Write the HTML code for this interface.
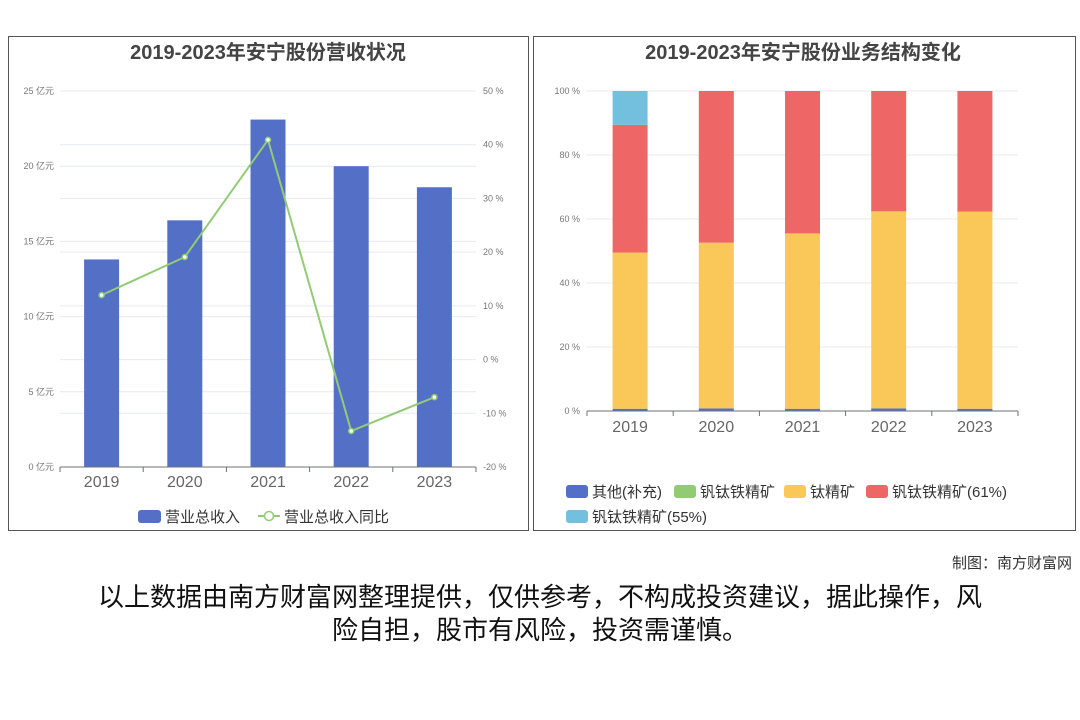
<!DOCTYPE html>
<html><head><meta charset="utf-8"><style>
body{margin:0;width:1080px;height:720px;background:#fff;font-family:"Liberation Sans","Noto Sans CJK SC",sans-serif;position:relative;overflow:hidden}
.panel{position:absolute;border:1px solid #555;background:#fff}
svg text{font-family:"Liberation Sans","Noto Sans CJK SC",sans-serif}
</style></head><body>
<div class="panel" style="left:8px;top:36px;width:519px;height:493px"></div>
<div class="panel" style="left:533px;top:36px;width:541px;height:493px"></div>
<svg id="svg" width="1080" height="720" style="position:absolute;left:0;top:0">
<text x="268" y="59" text-anchor="middle" font-size="20" font-weight="bold" fill="#444">2019-2023年安宁股份营收状况</text>
<text x="803" y="59" text-anchor="middle" font-size="20" font-weight="bold" fill="#444">2019-2023年安宁股份业务结构变化</text>
<g id="left"></g><g id="right"></g>
</svg>
<div style="position:absolute;right:8px;top:552px;font-size:15px;color:#333">制图：南方财富网</div>
<div style="position:absolute;left:40px;width:1000px;top:581px;text-align:center;font-size:26px;line-height:33px;color:#111">以上数据由南方财富网整理提供，仅供参考，不构成投资建议，据此操作，风<br>险自担，股市有风险，投资需谨慎。</div>
<script>
const years=['2019','2020','2021','2022','2023'];
const revenue=[13.8,16.4,23.1,20.0,18.6];
const revenueYoY=[12.0,19.1,40.9,-13.3,-7.0];
const leftTicks=[0,5,10,15,20,25];
const rightTicks=[-20,-10,0,10,20,30,40,50];
const otherShare=[0.7,0.8,0.7,0.8,0.7];
const vtiShare=[0,0,0,0,0];
const tiShare=[48.8,51.8,54.8,61.6,61.6];
const vti61Share=[39.9,47.4,44.5,37.6,37.7];
const vti55Share=[10.6,0,0,0,0];
const pctTicks=[0,20,40,60,80,100];
const NS='http://www.w3.org/2000/svg';
function mk(p,t,a){const e=document.createElementNS(NS,t);for(const k in a)e.setAttribute(k,a[k]);p.appendChild(e);return e;}
const L=document.getElementById('left');
const lx0=60,lx1=476,ly0=467,ly1=91;
const yL=v=>ly0-(v/25)*(ly0-ly1);
const yR=v=>ly0-((v+20)/70)*(ly0-ly1);
const bandL=(lx1-lx0)/years.length;
const xL=i=>lx0+bandL*(i+0.5);
leftTicks.forEach(t=>{const g=mk(L,'line',{x1:lx0,x2:lx1,y1:yL(t),y2:yL(t),stroke:'#e6e9f2'});
const tx=mk(L,'text',{x:54,y:yL(t)+3,'text-anchor':'end','font-size':9,fill:'#777'});tx.textContent=t+' 亿元';});
rightTicks.forEach(t=>{const g=mk(L,'line',{x1:lx0,x2:lx1,y1:yR(t),y2:yR(t),stroke:'#e6e9f2'});
const tx=mk(L,'text',{x:483,y:yR(t)+3,'font-size':9,fill:'#777'});tx.textContent=t+' %';});
revenue.forEach((v,i)=>{const r=mk(L,'rect',{x:xL(i)-17.5,y:yL(v),width:35,height:ly0-yL(v),fill:'#5470c6'});});
mk(L,'line',{x1:lx0,x2:lx1,y1:ly0,y2:ly0,stroke:'#6e7079'});
for(let i=0;i<=years.length;i++)mk(L,'line',{x1:lx0+bandL*i,x2:lx0+bandL*i,y1:ly0,y2:ly0+5,stroke:'#6e7079'});
years.forEach((y,i)=>{const t=mk(L,'text',{x:xL(i),y:487,'text-anchor':'middle','font-size':16,fill:'#666'});t.textContent=y;});
const pl=mk(L,'polyline',{points:revenueYoY.map((v,i)=>xL(i)+','+yR(v)).join(' '),fill:'none',stroke:'#91cc75','stroke-width':2});

revenueYoY.forEach((v,i)=>{const c=mk(L,'circle',{cx:xL(i),cy:yR(v),r:2.5,fill:'#fff',stroke:'#91cc75','stroke-width':1.5});});
let lg=mk(L,'g',{});
mk(lg,'rect',{x:138,y:510,width:23,height:13,rx:3,fill:'#5470c6'});
let t1=mk(lg,'text',{x:165,y:522,'font-size':15,fill:'#333'});t1.textContent='营业总收入';
mk(lg,'line',{x1:258,x2:280,y1:516,y2:516,stroke:'#91cc75','stroke-width':2});
mk(lg,'circle',{cx:269,cy:516,r:4.5,fill:'#fff',stroke:'#91cc75','stroke-width':1.5});
let t2=mk(lg,'text',{x:284,y:522,'font-size':15,fill:'#333'});t2.textContent='营业总收入同比';
const R=document.getElementById('right');
const rx0=587,rx1=1018,ry0=411,ry1=91;
const yP=v=>ry0-(v/100)*(ry0-ry1);
const bandR=(rx1-rx0)/years.length;
const xR=i=>rx0+bandR*(i+0.5);
pctTicks.forEach(t=>{const g=mk(R,'line',{x1:rx0,x2:rx1,y1:yP(t),y2:yP(t),stroke:'#e6e9f2'});
const tx=mk(R,'text',{x:580,y:yP(t)+3,'text-anchor':'end','font-size':9,fill:'#777'});tx.textContent=t+' %';});
const series=[[otherShare,'#5470c6','其他(补充)'],[vtiShare,'#91cc75','钒钛铁精矿'],[tiShare,'#fac858','钛精矿'],[vti61Share,'#ee6666','钒钛铁精矿(61%)'],[vti55Share,'#73c0de','钒钛铁精矿(55%)']];
years.forEach((y,i)=>{let acc=0;series.forEach((s,k)=>{const v=s[0][i];if(v<=0)return;const r=mk(R,'rect',{x:xR(i)-17.5,y:yP(acc+v),width:35,height:yP(acc)-yP(acc+v),fill:s[1]});acc+=v;});});
mk(R,'line',{x1:rx0,x2:rx1,y1:ry0,y2:ry0,stroke:'#6e7079'});
for(let i=0;i<=years.length;i++)mk(R,'line',{x1:rx0+bandR*i,x2:rx0+bandR*i,y1:ry0,y2:ry0+5,stroke:'#6e7079'});
years.forEach((y,i)=>{const t=mk(R,'text',{x:xR(i),y:432,'text-anchor':'middle','font-size':16,fill:'#666'});t.textContent=y;});
const legPos=[[566,485],[674,485],[784,485],[866,485],[566,510]];
series.forEach((s,k)=>{const g=mk(R,'g',{});
mk(g,'rect',{x:legPos[k][0],y:legPos[k][1],width:22,height:13,rx:3,fill:s[1]});
const t=mk(g,'text',{x:legPos[k][0]+26,y:legPos[k][1]+12,'font-size':15,fill:'#333'});t.textContent=s[2];});
</script>
</body></html>
